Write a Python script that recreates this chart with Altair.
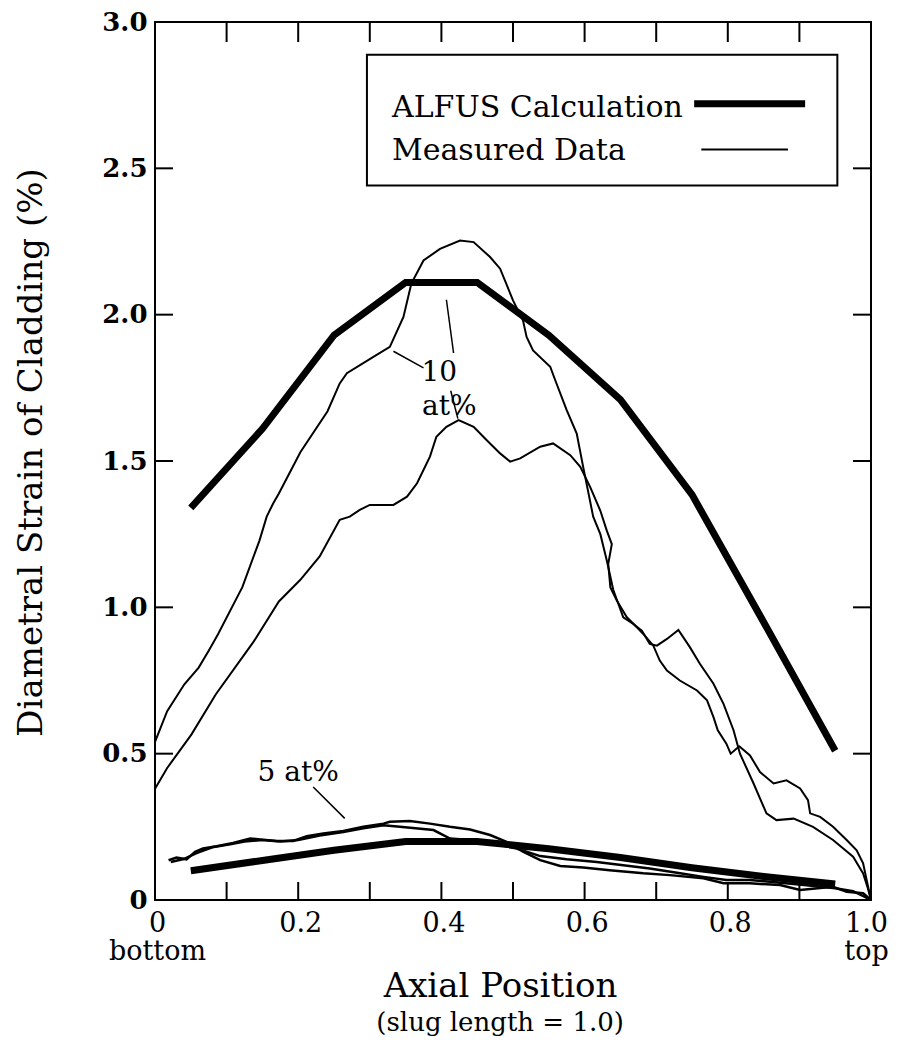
import altair as alt
import pandas as pd

FONT = "DejaVu Serif"

# ---------------- data ----------------
alfus_x = [0.05, 0.15, 0.25, 0.35, 0.45, 0.55, 0.65, 0.75, 0.85, 0.95]
alfus10_y = [1.34, 1.61, 1.93, 2.11, 2.11, 1.93, 1.71, 1.385, 0.95, 0.51]
alfus5_y = [0.10, 0.135, 0.17, 0.20, 0.20, 0.175, 0.145, 0.11, 0.08, 0.055]

meas10a_x = [0.0, 0.017, 0.041, 0.061, 0.075, 0.088, 0.122, 0.146, 0.156, 0.165, 0.173,
             0.203, 0.241, 0.258, 0.268, 0.305, 0.328, 0.347, 0.358, 0.375, 0.398, 0.426,
             0.445, 0.468, 0.482, 0.500, 0.514, 0.519, 0.528, 0.552, 0.559, 0.575, 0.589,
             0.598, 0.612, 0.622, 0.631, 0.640, 0.654, 0.668, 0.680, 0.691, 0.701, 0.715,
             0.731, 0.747, 0.761, 0.780, 0.794, 0.808, 0.817, 0.836, 0.854, 0.868, 0.892,
             0.919, 0.947, 0.975, 0.989, 0.995, 1.0]
meas10a_y = [0.54, 0.645, 0.737, 0.794, 0.852, 0.908, 1.069, 1.229, 1.31, 1.355, 1.389,
             1.53, 1.67, 1.765, 1.80, 1.856, 1.89, 1.992, 2.106, 2.185, 2.225, 2.253,
             2.248, 2.197, 2.157, 2.049, 1.98, 1.924, 1.878, 1.822, 1.776, 1.674, 1.594,
             1.48, 1.31, 1.25, 1.16, 1.06, 0.966, 0.943, 0.92, 0.875, 0.869, 0.892,
             0.923, 0.864, 0.807, 0.739, 0.67, 0.58, 0.5, 0.398, 0.296, 0.273, 0.278,
             0.25, 0.205, 0.148, 0.091, 0.045, 0.0]

meas10b_x = [0.0, 0.017, 0.051, 0.085, 0.137, 0.173, 0.203, 0.230, 0.258, 0.272, 0.286,
             0.300, 0.333, 0.352, 0.366, 0.384, 0.393, 0.407, 0.424, 0.445, 0.463, 0.482,
             0.496, 0.510, 0.538, 0.556, 0.580, 0.594, 0.608, 0.622, 0.631, 0.638, 0.633,
             0.636, 0.645, 0.659, 0.673, 0.682, 0.696, 0.705, 0.715, 0.733, 0.757, 0.771,
             0.780, 0.786, 0.798, 0.804, 0.816, 0.831, 0.845, 0.864, 0.882, 0.901, 0.912,
             0.915, 0.929, 0.947, 0.966, 0.980, 0.989, 0.994, 1.0]
meas10b_y = [0.38, 0.451, 0.566, 0.703, 0.88, 1.02, 1.094, 1.174, 1.299, 1.31, 1.333,
             1.35, 1.35, 1.378, 1.424, 1.515, 1.583, 1.617, 1.64, 1.617, 1.572, 1.526,
             1.498, 1.509, 1.549, 1.56, 1.52, 1.48, 1.41, 1.33, 1.262, 1.216, 1.148,
             1.068, 1.023, 0.966, 0.932, 0.909, 0.869, 0.818, 0.784, 0.75, 0.716, 0.682,
             0.625, 0.58, 0.534, 0.5, 0.525, 0.494, 0.437, 0.398, 0.409, 0.381, 0.341,
             0.296, 0.284, 0.25, 0.205, 0.17, 0.125, 0.068, 0.0]

meas5a_x = [0.019, 0.030, 0.044, 0.056, 0.067, 0.086, 0.109, 0.133, 0.147, 0.170, 0.193,
            0.212, 0.235, 0.263, 0.291, 0.319, 0.328, 0.356, 0.384, 0.412, 0.440, 0.468,
            0.491, 0.514, 0.538, 0.566, 0.598, 0.635, 0.682, 0.719, 0.766, 0.794, 0.831,
            0.873, 0.901, 0.947, 0.966, 0.989, 1.0]
meas5a_y = [0.136, 0.145, 0.139, 0.165, 0.176, 0.184, 0.195, 0.21, 0.207, 0.202, 0.202,
            0.218, 0.227, 0.236, 0.25, 0.261, 0.267, 0.27, 0.261, 0.25, 0.241, 0.222,
            0.199, 0.165, 0.136, 0.116, 0.111, 0.102, 0.091, 0.085, 0.074, 0.057, 0.057,
            0.051, 0.034, 0.045, 0.028, 0.023, 0.0]

meas5b_x = [0.022, 0.040, 0.058, 0.080, 0.105, 0.125, 0.150, 0.175, 0.200, 0.230, 0.263,
            0.291, 0.319, 0.342, 0.389, 0.412, 0.440, 0.482, 0.505, 0.538, 0.575, 0.617,
            0.654, 0.691, 0.729, 0.766, 0.798, 0.831, 0.870, 0.910, 0.950, 0.975, 1.0]
meas5b_y = [0.13, 0.14, 0.16, 0.18, 0.19, 0.20, 0.205, 0.20, 0.205, 0.22, 0.232,
            0.245, 0.255, 0.25, 0.239, 0.21, 0.205, 0.188, 0.176, 0.15, 0.139, 0.13,
            0.119, 0.108, 0.093, 0.079, 0.068, 0.068, 0.06, 0.05, 0.04, 0.03, 0.0]

x_label_values = [0, 0.2, 0.4, 0.6, 0.8, 1.0]
x_tick_values = [0.1, 0.2, 0.3, 0.4, 0.5, 0.6, 0.7, 0.8, 0.9]
y_label_values = [0, 0.5, 1.0, 1.5, 2.0, 2.5, 3.0]
y_tick_values = [0.5, 1.0, 1.5, 2.0, 2.5]

# annotations
note_text = ["10", "at%", "5 at%"]
note_x = [0.397, 0.411, 0.200]
note_y = [1.80, 1.684, 0.435]
leader_x = [0.333, 0.407, 0.413, 0.221]
leader_y = [1.875, 2.051, 1.74, 0.386]
leader_x2 = [0.375, 0.417, 0.423, 0.265]
leader_y2 = [1.818, 1.869, 1.645, 0.279]

legend_labels = ["ALFUS Calculation", "Measured Data"]
legend_label_x = [0.331, 0.331]
legend_label_y = [2.676, 2.53]
legend_line_x = [0.753, 0.763]
legend_line_x2 = [0.908, 0.884]
legend_line_y = [2.721, 2.564]
legend_box = {"x": [0.296], "x2": [0.953], "y": [2.441], "y2": [2.888]}

subtitle_text = ["(slug length = 1.0)"]
subtitle_x = [0.482]
subtitle_y = [-0.446]

# ---------------- tables ----------------
def series_df(name, xs, ys):
    return pd.DataFrame({"x": xs, "y": ys, "series": name, "order": list(range(len(xs)))})

alfus_df = pd.concat([series_df("alfus10", alfus_x, alfus10_y),
                      series_df("alfus5", alfus_x, alfus5_y)])
meas10_df = pd.concat([series_df("m10a", meas10a_x, meas10a_y),
                       series_df("m10b", meas10b_x, meas10b_y)])
meas5_df = pd.concat([series_df("m5a", meas5a_x, meas5a_y),
                      series_df("m5b", meas5b_x, meas5b_y)])

W, H = 716, 878

xscale = alt.Scale(domain=[0, 1], nice=False, zero=False)
yscale = alt.Scale(domain=[0, 3], nice=False, zero=False)

x_axis = alt.Axis(
    values=x_label_values,
    labelExpr="datum.value == 0 ? ['0', 'bottom'] : (datum.value == 1 ? ['1.0', 'top'] : format(datum.value, '.1f'))",
    ticks=False, tickSize=0, domain=False, grid=False,
    labelFont=FONT, labelFontSize=27, labelColor="black", labelPadding=10,
    labelLineHeight=28, labelFlush=False, labelOverlap=False,
    labelOffset={"condition": {"test": "datum.value == 1", "value": -5}, "value": 2},
    title="Axial Position", titleFont=FONT, titleFontSize=34, titleFontWeight="normal",
    titleColor="black", titleX=345, titleY=96, titleAlign="center", titleBaseline="alphabetic",
)
y_axis = alt.Axis(
    values=y_label_values,
    labelExpr="datum.value == 0 ? '0' : format(datum.value, '.1f')",
    ticks=False, tickSize=0, domain=False, grid=False,
    labelFont=FONT, labelFontSize=26, labelFontWeight="bold", labelColor="black",
    labelPadding=8, labelFlush=False, labelOverlap=False,
    title="Diametral Strain of Cladding (%)", titleFont=FONT, titleFontSize=34,
    titleFontWeight="normal", titleColor="black", titleX=-124, titleY=430,
    titleAlign="center", titleBaseline="middle",
)

X = alt.X("x:Q", scale=xscale, axis=x_axis)
Y = alt.Y("y:Q", scale=yscale, axis=y_axis)

box = alt.Chart(pd.DataFrame(legend_box)).mark_rect(
    fill="white", stroke="black", strokeWidth=2
).encode(x=X, x2="x2:Q", y=Y, y2="y2:Q")

alfus = alt.Chart(alfus_df).mark_line(color="black", strokeWidth=7).encode(
    x=X, y=Y, detail="series:N", order="order:Q")
meas10 = alt.Chart(meas10_df).mark_line(color="black", strokeWidth=2).encode(
    x=X, y=Y, detail="series:N", order="order:Q")
meas5 = alt.Chart(meas5_df).mark_line(color="black", strokeWidth=2.5).encode(
    x=X, y=Y, detail="series:N", order="order:Q")

xt = pd.DataFrame({"x": x_tick_values})
yt = pd.DataFrame({"y": y_tick_values})
ticks_bottom = alt.Chart(xt).mark_rule(color="black", strokeWidth=2).encode(
    x=X, y=alt.value(H), y2=alt.value(H - 18))
ticks_top = alt.Chart(xt).mark_rule(color="black", strokeWidth=2).encode(
    x=X, y=alt.value(0), y2=alt.value(20))
ticks_left = alt.Chart(yt).mark_rule(color="black", strokeWidth=2).encode(
    y=Y, x=alt.value(0), x2=alt.value(18))
ticks_right = alt.Chart(yt).mark_rule(color="black", strokeWidth=2).encode(
    y=Y, x=alt.value(W), x2=alt.value(W - 18))

notes = alt.Chart(pd.DataFrame({"x": note_x, "y": note_y, "t": note_text})).mark_text(
    font=FONT, fontSize=28, color="black", align="center", baseline="middle"
).encode(x=X, y=Y, text="t:N")

leaders = alt.Chart(pd.DataFrame({"x": leader_x, "y": leader_y, "x2": leader_x2, "y2": leader_y2})).mark_rule(
    color="black", strokeWidth=1.5
).encode(x=X, y=Y, x2="x2:Q", y2="y2:Q")

leg_text = alt.Chart(pd.DataFrame({"x": legend_label_x, "y": legend_label_y, "t": legend_labels})).mark_text(
    font=FONT, fontSize=30, color="black", align="left", baseline="alphabetic"
).encode(x=X, y=Y, text="t:N")

leg_df = pd.DataFrame({"x": legend_line_x, "x2": legend_line_x2, "y": legend_line_y,
                       "w": [7, 2]})
leg_lines = alt.Chart(leg_df).mark_rule(color="black").encode(
    x=X, x2="x2:Q", y=Y,
    strokeWidth=alt.StrokeWidth("w:Q", scale=None, legend=None))

sub = alt.Chart(pd.DataFrame({"x": subtitle_x, "y": subtitle_y, "t": subtitle_text})).mark_text(
    font=FONT, fontSize=26, color="black", align="center", baseline="alphabetic"
).encode(x=X, y=Y, text="t:N")

chart = alt.layer(
    box, alfus, meas10, meas5, ticks_bottom, ticks_top, ticks_left, ticks_right,
    notes, leaders, leg_text, leg_lines, sub
).properties(
    width=W, height=H,
    padding={"left": 147, "top": 14, "right": 20, "bottom": 140},
    autosize=alt.AutoSizeParams(type="none"),
    background="white",
).configure_view(stroke="black", strokeWidth=2)

chart.save("out.html", embed_options={"renderer": "svg", "actions": False})
